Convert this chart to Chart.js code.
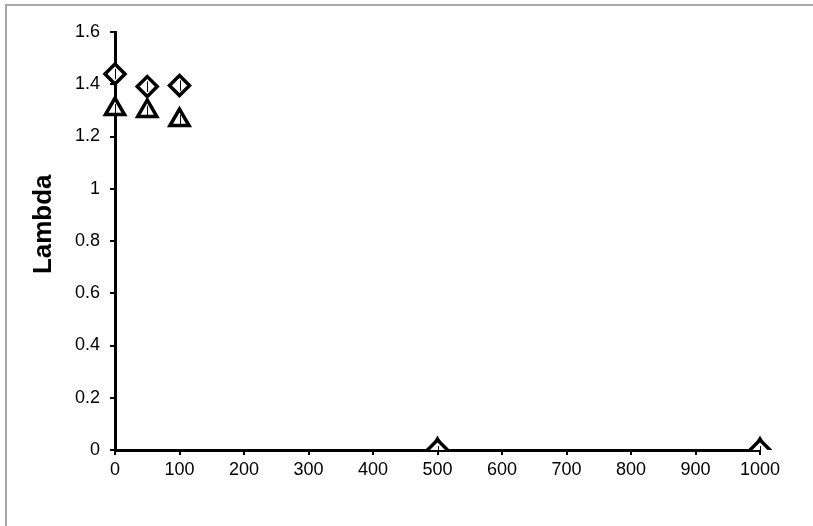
<!DOCTYPE html>
<html>
<head>
<meta charset="utf-8">
<script src="https://cdn.jsdelivr.net/npm/chart.js@4/dist/chart.umd.min.js"></script>
<style>
  html, body { margin: 0; padding: 0; background: #fff; }
  #wrap { position: relative; width: 813px; height: 526px; }
</style>
</head>
<body>
<div id="wrap"><canvas id="c" width="813" height="526"></canvas></div>
<script>
// Concentration levels on the x axis
const concentrations = [0, 50, 100, 500, 1000];
// Lambda for the two series, with their error half-widths
const lambdaDiamond = [1.439, 1.391, 1.395, 0, 0];
const errDiamond = [0.02, 0.02, 0.02, 0.015, 0.015];
const lambdaTriangle = [1.305, 1.298, 1.263, 0, 0];
const errTriangle = [0.02, 0.02, 0.02, 0.015, 0.015];
// Axis tick values
const xTicks = [0, 100, 200, 300, 400, 500, 600, 700, 800, 900, 1000];
const yTicks = [0, 0.2, 0.4, 0.6, 0.8, 1, 1.2, 1.4, 1.6];

const FONT = "'Liberation Sans', Arial, sans-serif";

function toPoints(xs, ys, es) {
  return xs.map((x, i) => ({ x: x, y: ys[i], err: es[i] }));
}

// Thin vertical error bars drawn through each marker
const errorBars = {
  id: 'errorBars',
  afterDatasetsDraw(chart) {
    const ctx = chart.ctx;
    const xs = chart.scales.x, ys = chart.scales.y;
    const a = chart.chartArea;
    ctx.save();
    ctx.beginPath();
    ctx.rect(0, 0, chart.width, a.bottom);
    ctx.clip();
    ctx.strokeStyle = '#000';
    ctx.lineWidth = 1;
    chart.data.datasets.forEach(ds => {
      ds.data.forEach(p => {
        const px = Math.round(xs.getPixelForValue(p.x)) + 0.5;
        ctx.beginPath();
        ctx.moveTo(px, ys.getPixelForValue(p.y - p.err));
        ctx.lineTo(px, ys.getPixelForValue(p.y + p.err));
        ctx.stroke();
      });
    });
    ctx.restore();
  }
};

// Frame around the chart and the rotated y-axis title
const frame = {
  id: 'frame',
  beforeDraw(chart) {
    const ctx = chart.ctx;
    ctx.save();
    ctx.fillStyle = '#fff';
    ctx.fillRect(0, 0, chart.width, chart.height);
    ctx.strokeStyle = '#a8a8a8';
    ctx.lineWidth = 2;
    ctx.beginPath();
    ctx.moveTo(6, chart.height);
    ctx.lineTo(6, 5);
    ctx.lineTo(chart.width, 5);
    ctx.stroke();
    ctx.restore();
  },
  afterDraw(chart) {
    const ctx = chart.ctx;
    const a = chart.chartArea;
    ctx.save();
    ctx.translate(44, a.top + (a.bottom - a.top) * 0.46);
    ctx.rotate(-Math.PI / 2);
    ctx.font = "bold 26px " + FONT;
    ctx.fillStyle = '#000';
    ctx.textAlign = 'center';
    ctx.textBaseline = 'middle';
    ctx.fillText('Lambda', 0, 0);
    ctx.restore();
  }
};

// Markers may spill past the left/top edges but stop at the x axis
const markerClip = { left: false, top: false, right: false, bottom: 0 };

new Chart(document.getElementById('c'), {
  type: 'scatter',
  data: {
    datasets: [
      {
        label: 'diamond',
        data: toPoints(concentrations, lambdaDiamond, errDiamond),
        pointStyle: 'rectRot',
        pointRadius: 10,
        pointBorderWidth: 3.5,
        borderColor: '#000',
        backgroundColor: '#fff',
        clip: markerClip
      },
      {
        label: 'triangle',
        data: toPoints(concentrations, lambdaTriangle, errTriangle),
        pointStyle: 'triangle',
        pointRadius: 11,
        pointBorderWidth: 3.5,
        borderColor: '#000',
        backgroundColor: '#fff',
        clip: markerClip
      }
    ]
  },
  options: {
    responsive: false,
    animation: false,
    layout: { padding: { left: 25, top: 32, right: 53, bottom: 0 } },
    plugins: {
      legend: { display: false },
      tooltip: { enabled: false }
    },
    scales: {
      x: {
        type: 'linear',
        min: 0,
        max: 1000,
        afterBuildTicks(scale) { scale.ticks = xTicks.map(v => ({ value: v })); },
        afterFit(scale) { scale.height = 76; },
        border: { color: '#000', width: 3 },
        grid: { drawOnChartArea: false, drawTicks: true, tickLength: 5, tickColor: '#000', lineWidth: 2 },
        ticks: { color: '#000', font: { family: FONT, size: 18 }, padding: 4, maxRotation: 0,
                 callback: v => String(v) }
      },
      y: {
        type: 'linear',
        min: 0,
        max: 1.6,
        afterBuildTicks(scale) { scale.ticks = yTicks.map(v => ({ value: v })); },
        afterFit(scale) { scale.width = 90; },
        border: { color: '#000', width: 3 },
        grid: { drawOnChartArea: false, drawTicks: true, tickLength: 5, tickColor: '#000', lineWidth: 2 },
        ticks: { color: '#000', font: { family: FONT, size: 18 }, padding: 10,
                 callback: v => String(Math.round(v * 10) / 10) }
      }
    }
  },
  plugins: [frame, errorBars]
});
</script>
</body>
</html>
